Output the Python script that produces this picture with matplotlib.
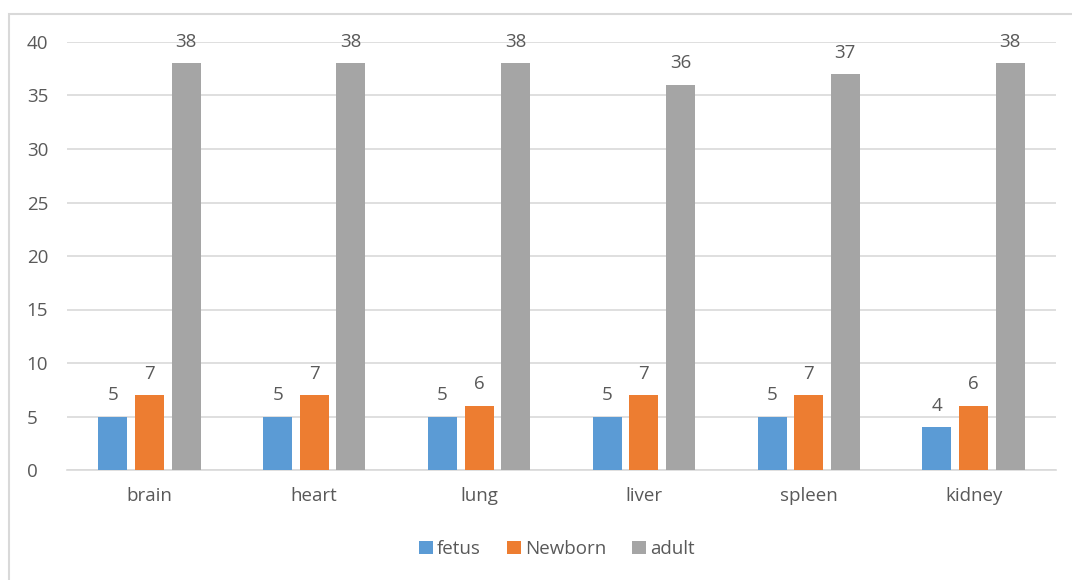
import numpy as np
import matplotlib.pyplot as plt
from matplotlib.patches import Rectangle

plt.rcParams['font.family'] = ['Open Sans', 'DejaVu Sans']

# data
organs = ['brain', 'heart', 'lung', 'liver', 'spleen', 'kidney']
fetus = [5, 5, 5, 5, 5, 4]
newborn = [7, 7, 6, 7, 7, 6]
adult = [38, 38, 38, 36, 37, 38]

series = [('fetus', fetus, '#5B9BD5'),
          ('Newborn', newborn, '#ED7D31'),
          ('adult', adult, '#A5A5A5')]

txt = '#595959'
fs = 13.5

fig = plt.figure(figsize=(10.72, 5.8), dpi=100)
ax = fig.add_axes([67 / 1072, 1 - 470 / 580, (1056 - 67) / 1072, (470 - 42) / 580])

# chart border, cut off by the image edges like in the original
fig.patches.append(Rectangle((9 / 1072, -0.1), 1.2, 1 - 14 / 580 + 0.1,
                             transform=fig.transFigure, fill=False,
                             edgecolor='#D9D9D9', linewidth=1.5))

x = np.arange(len(organs))
w = 0.176
step = 0.222
for i, (name, vals, col) in enumerate(series):
    bars = ax.bar(x + (i - 1) * step, vals, width=w, color=col, label=name, zorder=3)
    for b, v in zip(bars, vals):
        ax.annotate(str(v), (b.get_x() + b.get_width() / 2, v), xytext=(0, 9),
                    textcoords='offset points', ha='center', va='bottom',
                    fontsize=fs, color=txt)

ax.set_xlim(-0.5, len(organs) - 0.5)
ax.set_ylim(0, 40)
ax.set_yticks(range(0, 41, 5))
ax.set_xticks(x)
ax.set_xticklabels(organs)
ax.yaxis.grid(True, color='#D9D9D9', linewidth=1.2, zorder=0)
for s in ['top', 'right', 'left']:
    ax.spines[s].set_visible(False)
ax.spines['bottom'].set_color('#D9D9D9')
ax.spines['bottom'].set_linewidth(1.2)
ax.tick_params(axis='both', length=0, labelsize=fs, colors=txt)
ax.tick_params(axis='x', pad=12)
ax.tick_params(axis='y', pad=29)
for t in ax.get_yticklabels():
    t.set_horizontalalignment('left')

ax.legend(loc='center', bbox_to_anchor=(557 / 1072, 1 - 549 / 580),
          bbox_transform=fig.transFigure, ncol=3, frameon=False,
          fontsize=fs, labelcolor=txt, handlelength=0.75, handleheight=0.75,
          handletextpad=0.2, columnspacing=1.4)

plt.savefig('out.png', dpi=100)
